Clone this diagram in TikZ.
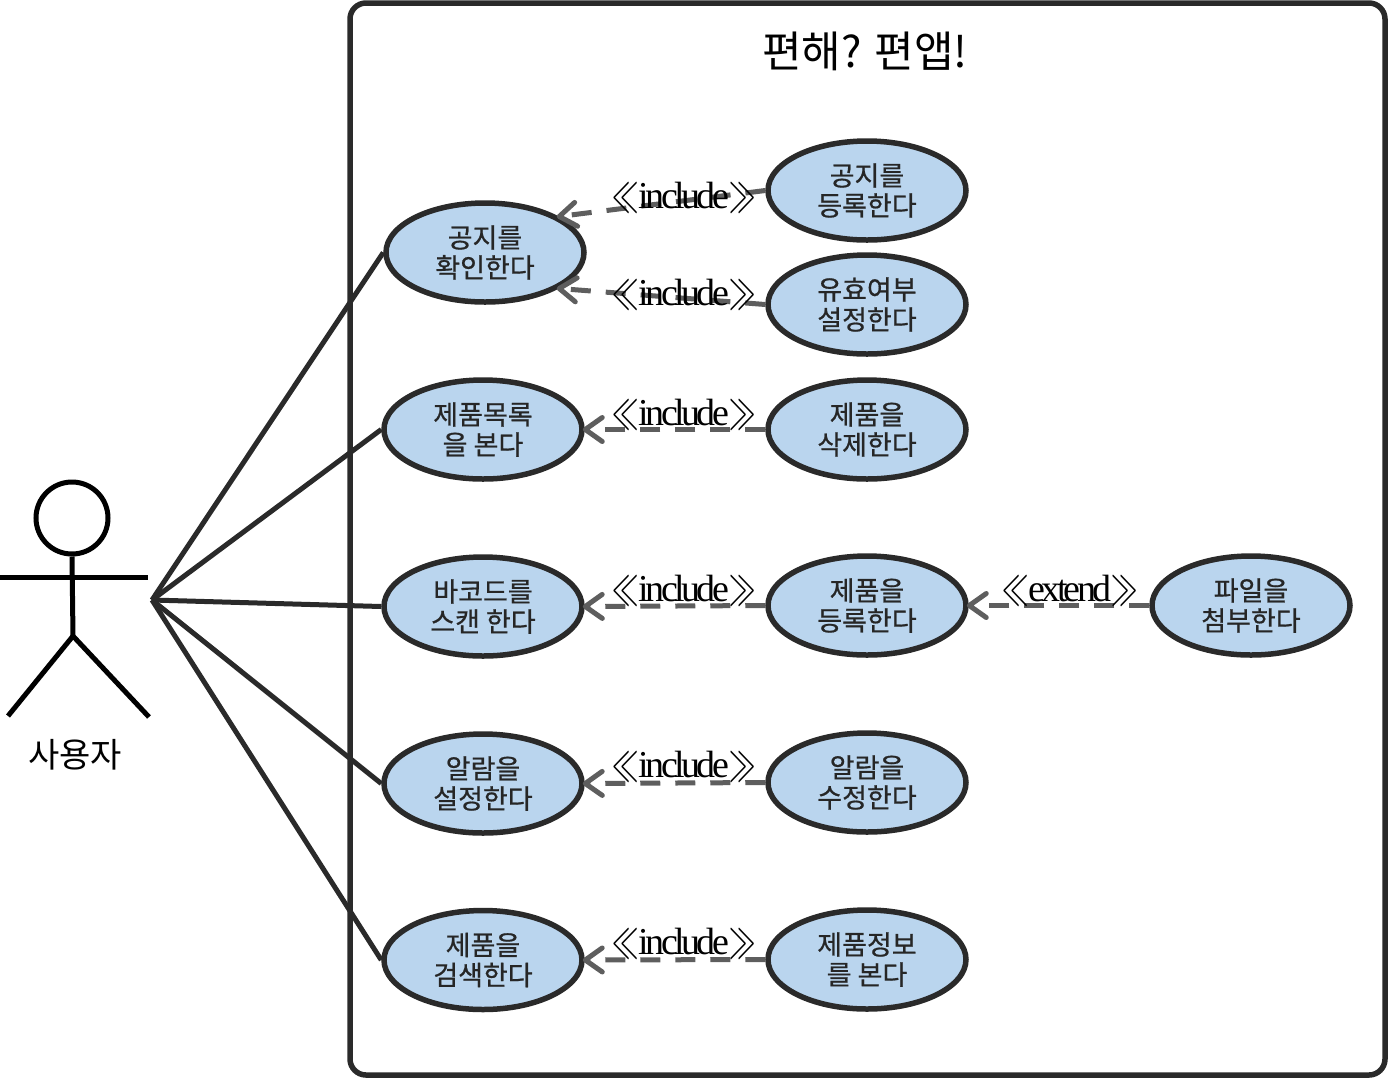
\documentclass[tikz,border=0pt]{standalone}
\usepackage{fontspec}
\setmainfont{Noto Sans CJK KR}
\newfontfamily\casefont[FakeBold=0.7]{Noto Sans CJK KR}
\newfontfamily\stereofont[LetterSpace=-9.5]{Liberation Serif}
\usepackage{tikz}
\usetikzlibrary{positioning,arrows.meta,shapes.geometric}
\definecolor{lineDark}{HTML}{2A2A2A}
\definecolor{lineGrey}{HTML}{5E5E5E}
\definecolor{caseBlue}{HTML}{BAD5EE}
\newcommand{\openmark}{\raisebox{-1.2pt}{\scalebox{0.76}[1.45]{$\ll$}}}
\newcommand{\closemark}{\raisebox{-1.2pt}{\scalebox{0.76}[1.45]{$\gg$}}}

\begin{document}
\begin{tikzpicture}[x=0.5pt, y=-0.5pt, font=\fontsize{13.5}{15}\selectfont,
  usecase/.style={ellipse, draw=lineDark, fill=caseBlue, line width=2.75pt, inner sep=0pt,
    minimum width=99pt, minimum height=49.5pt, align=center, text=black!85, font=\fontsize{13.5}{15}\casefont},
  assoc/.style={draw=lineDark, line width=2.5pt},
  dep/.style={draw=lineGrey, line width=2.5pt, dash pattern=on 10pt off 7.5pt, shorten >=-1pt,
    -{Straight Barb[length=8.5pt,width=12pt,round]}},
  stereo/.style={inner sep=0pt, font=\fontsize{19}{19}\selectfont\stereofont},
  limb/.style={draw=black, line width=2.5pt}]
  \useasboundingbox (0,0) rectangle (1388,1078);
  % System box
  \draw[lineDark, line width=2.75pt, rounded corners=8pt] (350,3) rectangle (1385,1075);
  \node[font=\fontsize{21.5}{21.5}\selectfont] (title) at (865,51) {편해? 편앱!};
  % Actor
  \node[circle, draw=black, line width=2.5pt, minimum size=36pt, inner sep=0pt] (actorHead) at (72,518) {};
  \coordinate (actorHip) at (73,636);
  \coordinate (actorHand) at (152,600);
  \draw[limb] (actorHead.south) -- (actorHip);
  \draw[limb] (0,577) -- (148,577);
  \draw[limb] (8,716) -- (actorHip) -- (149,717);
  \node[font=\fontsize{17}{17}\selectfont] (actorName) at (75,755) {사용자};
  % Left column
  \node[usecase] (noticeView) at (485,252.5) {공지를\\확인한다};
  \node[usecase] (listView) at (483,429.5) {제품목록\\을 본다};
  \node[usecase] (barcodeScan) at (483,606.5) {바코드를\\스캔 한다};
  \node[usecase] (alarmSet) at (483,783.5) {알람을\\설정한다};
  \node[usecase] (productSearch) at (483,960) {제품을\\검색한다};
  % Middle column
  \node[usecase] (noticeAdd) at (867,190.5) {공지를\\등록한다};
  \node[usecase] (validSet) at (867,304.5) {유효여부\\설정한다};
  \node[usecase] (productDel) at (867,429.5) {제품을\\삭제한다};
  \node[usecase] (productAdd) at (867,605.5) {제품을\\등록한다};
  \node[usecase] (alarmEdit) at (867,782.5) {알람을\\수정한다};
  \node[usecase] (infoView) at (867,959.5) {제품정보\\를 본다};
  % Right column
  \node[usecase] (fileAttach) at (1251,605.5) {파일을\\첨부한다};
  % Actor links
  \foreach \c in {noticeView,listView,barcodeScan,alarmSet,productSearch}
    \draw[assoc] (actorHand) -- (\c.west);
  % Dependencies
  \draw[dep] (noticeAdd.west) -- (noticeView.26);
  \draw[dep] (validSet.west) -- (noticeView.-26);
  \draw[dep] (productDel.west) -- (listView.east);
  \draw[dep] (productAdd.west) -- (barcodeScan.east);
  \draw[dep] (alarmEdit.west) -- (alarmSet.east);
  \draw[dep] (infoView.west) -- (productSearch.east);
  \draw[dep] (fileAttach.west) -- (productAdd.east);
  % Stereotypes
  \node[stereo] (inclA) at (684,197) {\openmark include\closemark};
  \node[stereo] (inclB) at (684,294) {\openmark include\closemark};
  \node[stereo] (inclC) at (684,414) {\openmark include\closemark};
  \node[stereo] (inclD) at (684,590) {\openmark include\closemark};
  \node[stereo] (inclE) at (684,766) {\openmark include\closemark};
  \node[stereo] (inclF) at (684,943) {\openmark include\closemark};
  \node[stereo] (extA) at (1070,590) {\openmark extend\closemark};
\end{tikzpicture}
\end{document}
